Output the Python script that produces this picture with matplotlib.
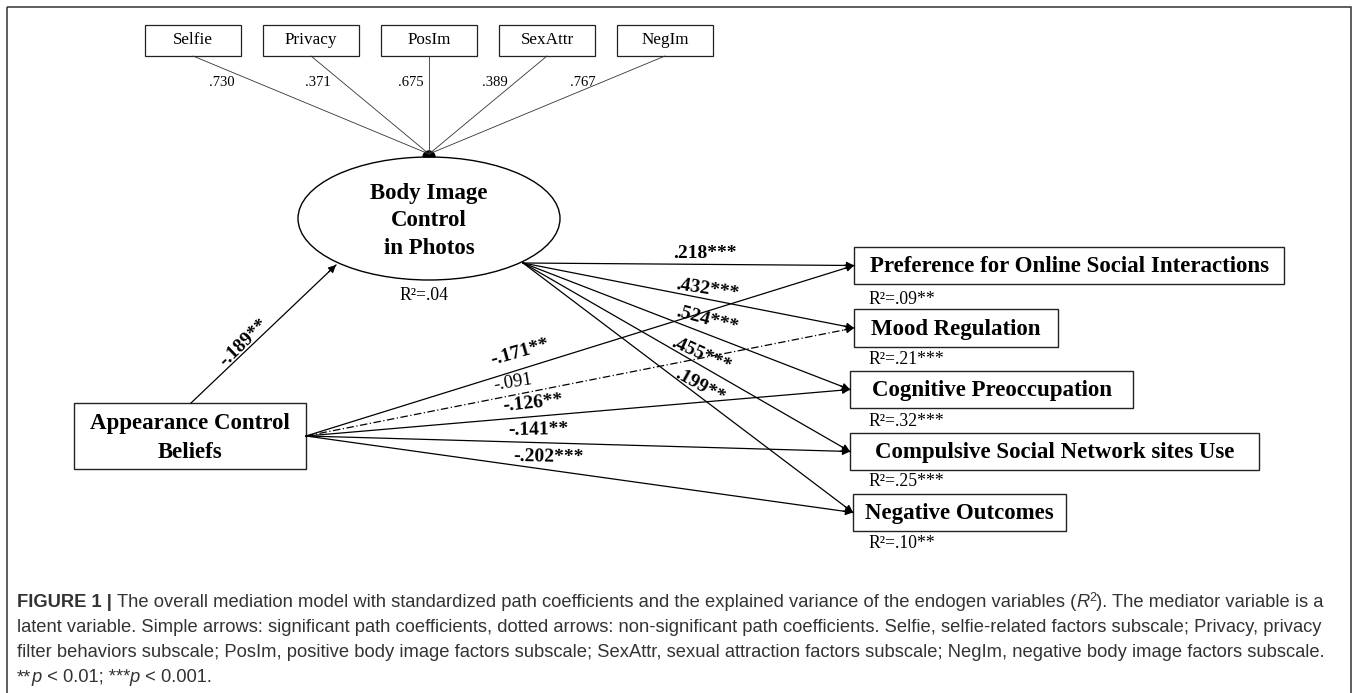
import matplotlib
matplotlib.use("Agg")
import matplotlib.pyplot as plt
from matplotlib.patches import Rectangle, Ellipse, Wedge
from matplotlib import font_manager

# ---- data ----
indicators = ['Selfie', 'Privacy', 'PosIm', 'SexAttr', 'NegIm']
loadings = ['.730', '.371', '.675', '.389', '.767']

mediator = 'Body Image\nControl\nin Photos'
mediator_r2 = 'R\u00b2=.04'
predictor = 'Appearance Control\nBeliefs'
predictor_path = '-.189**'

outcomes = ['Preference for Online Social Interactions', 'Mood Regulation',
            'Cognitive Preoccupation', 'Compulsive Social Network sites Use',
            'Negative Outcomes']
outcome_r2 = ['R\u00b2=.09**', 'R\u00b2=.21***', 'R\u00b2=.32***', 'R\u00b2=.25***', 'R\u00b2=.10**']
mediator_paths = ['.218***', '.432***', '.524***', '.455***', '.199**']
direct_paths = ['-.171**', '-.091', '-.126**', '-.141**', '-.202***']
direct_significant = [True, False, True, True, True]

# ---- layout (pixel coordinates, y downwards) ----
W, H = 1357, 693
ind_x = [193, 311, 429, 547, 665]
ind_box = (96, 25, 56)          # width, top, bottom
load_xy = [(222, 83), (318, 83), (411, 83), (495, 83), (583, 83)]
ell_c, ell_w, ell_h = (429, 218.5), 262, 123
dot_xy = (429, 157)
pred_box = (74, 306, 403, 469)  # left, right, top, bottom
out_boxes = [(854, 1284, 247, 284), (854, 1058, 309, 347), (850, 1133, 371, 408),
             (850, 1259, 433, 470), (853, 1066, 494, 531)]
r2_xy = [(868, 299), (868, 360), (868, 421), (868, 482), (868, 544)]
med_origin = (523, 263)
pred_origin = (306, 436)
med_lab = [(705, 253, 0), (707, 290, -9), (707, 320, -15), (701, 355, -24), (700, 386, -29)]
dir_lab = [(520, 352, 16), (513, 382, 9), (533, 403, 6), (538, 430, 1), (548, 457, -1)]

serif = 'Liberation Serif'
names = {f.name for f in font_manager.fontManager.ttflist}
cap_font = 'Liberation Sans Narrow' if 'Liberation Sans Narrow' in names else 'Liberation Sans'

fig = plt.figure(figsize=(W / 100, H / 100), dpi=100)
ax = fig.add_axes([0, 0, 1, 1])
ax.set_xlim(0, W)
ax.set_ylim(H, 0)
ax.axis('off')

# outer frame
ax.add_patch(Rectangle((7, 7), 1344, 720, fill=False, ec='#333333', lw=1.1))

# indicator boxes and loadings
bw, bt, bb = ind_box
for name, x, (lx, ly), lab in zip(indicators, ind_x, load_xy, loadings):
    ax.add_patch(Rectangle((x - bw / 2, bt), bw, bb - bt, fill=False, ec='#222222', lw=0.9))
    ax.text(x, (bt + bb) / 2, name, family=serif, fontsize=12.3, ha='center', va='center')
    ax.plot([x, dot_xy[0]], [bb, dot_xy[1] - 3], color='#333333', lw=0.6)
    ax.text(lx, ly, lab, family=serif, fontsize=10.5, ha='center', va='center')

ax.add_patch(Wedge(dot_xy, 6, 180, 360, fc='black', ec='black'))

# mediator ellipse
ax.add_patch(Ellipse(ell_c, ell_w, ell_h, fill=False, ec='black', lw=1.0))
for i, line in enumerate(mediator.split('\n')):
    ax.text(ell_c[0], 193 + i * 27.5, line, family=serif, fontsize=16.5,
            fontweight='bold', ha='center', va='center')
ax.text(424, 295, mediator_r2, family=serif, fontsize=12.7, ha='center', va='center')

# predictor box
l, r, t, b = pred_box
ax.add_patch(Rectangle((l, t), r - l, b - t, fill=False, ec='#222222', lw=1.0))
for i, line in enumerate(predictor.split('\n')):
    ax.text((l + r) / 2, 423 + i * 29, line, family=serif, fontsize=16.5,
            fontweight='bold', ha='center', va='center')


def arrow(p0, p1, ls='-'):
    ax.plot([p0[0], p1[0]], [p0[1], p1[1]], color='black', lw=0.9, ls=ls)
    dx, dy = p1[0] - p0[0], p1[1] - p0[1]
    n = (dx * dx + dy * dy) ** 0.5
    start = (p1[0] - dx / n * 10, p1[1] - dy / n * 10)
    ax.annotate('', xy=p1, xytext=start,
                arrowprops=dict(arrowstyle='-|>', color='black', lw=0.9,
                                mutation_scale=11, shrinkA=0, shrinkB=0))


# predictor -> mediator
arrow((191, 403), (336, 265))
ax.text(244, 343, predictor_path, family=serif, fontsize=14, fontweight='bold',
        ha='center', va='center', rotation=44)

# outcome boxes
for name, (l, r, t, b), (rx, ry), r2 in zip(outcomes, out_boxes, r2_xy, outcome_r2):
    ax.add_patch(Rectangle((l, t), r - l, b - t, fill=False, ec='#222222', lw=1.0))
    ax.text((l + r) / 2, (t + b) / 2 + 1, name, family=serif, fontsize=16.5,
            fontweight='bold', ha='center', va='center')
    ax.text(rx, ry, r2, family=serif, fontsize=12.7, ha='left', va='center')

# paths
for i, (l, r, t, b) in enumerate(out_boxes):
    tip = (l, (t + b) / 2)
    arrow(med_origin, tip)
    arrow(pred_origin, tip, ls='-' if direct_significant[i] else (0, (6, 2, 1, 2)))
    x, y, rot = med_lab[i]
    ax.text(x, y, mediator_paths[i], family=serif, fontsize=14, fontweight='bold',
            ha='center', va='center', rotation=rot)
    x, y, rot = dir_lab[i]
    ax.text(x, y, direct_paths[i], family=serif,
            fontsize=14 if direct_significant[i] else 13.5,
            fontweight='bold' if direct_significant[i] else 'normal',
            ha='center', va='center', rotation=rot)

# caption, drawn as runs of differently styled text
renderer = fig.canvas.get_renderer()
cap_col = '#333333'
cap_size = 13.2


def runs(x, y, parts):
    for s, kw in parts:
        props = dict(family=cap_font, fontsize=cap_size, color=cap_col, va='baseline')
        props.update(kw)
        dy = props.pop('dy', 0)
        t = ax.text(x, y + dy, s, **props)
        bb_ = t.get_window_extent(renderer)
        x += bb_.width


runs(17, 607, [('FIGURE 1 | ', dict(fontweight='bold')),
               ('The overall mediation model with standardized path coefficients and the explained '
                'variance of the endogen variables (', {}),
               ('R', dict(style='italic')), ('2', dict(fontsize=9, dy=-6)),
               ('). The mediator variable is a', {})])
runs(17, 632, [('latent variable. Simple arrows: significant path coefficients, dotted arrows: '
                'non-significant path coefficients. Selfie, selfie-related factors subscale; '
                'Privacy, privacy', {})])
runs(17, 657, [('filter behaviors subscale; PosIm, positive body image factors subscale; SexAttr, '
                'sexual attraction factors subscale; NegIm, negative body image factors subscale.', {})])
runs(17, 682, [('**', {}), ('p', dict(style='italic')), (' < 0.01; ***', {}),
               ('p', dict(style='italic')), (' < 0.001.', {})])

fig.savefig('out.png', dpi=100)
